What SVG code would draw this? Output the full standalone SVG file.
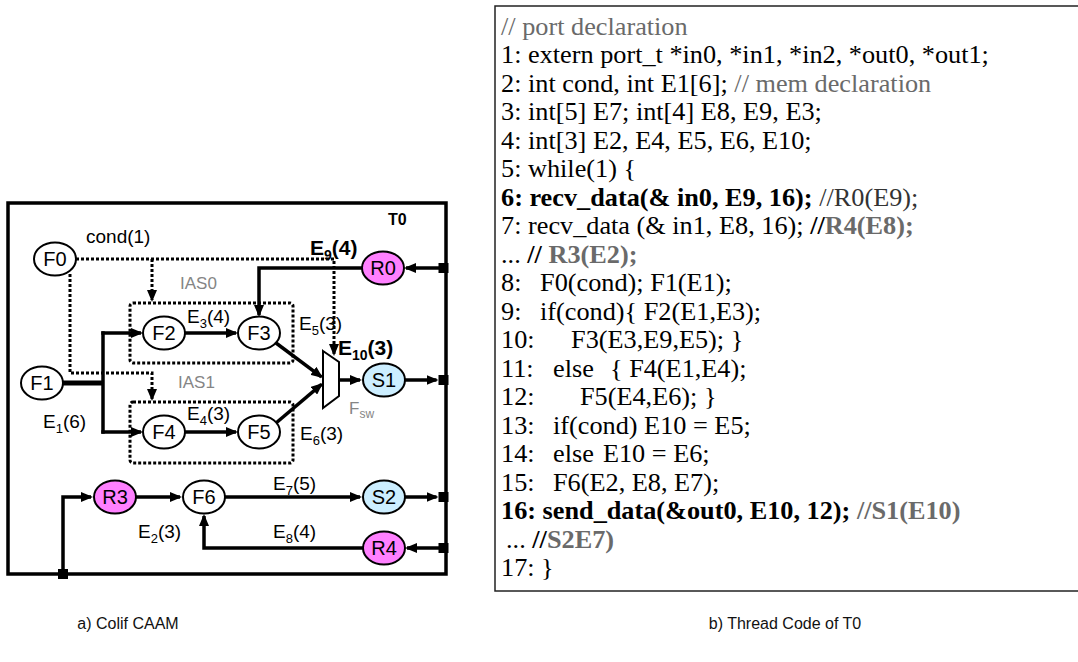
<svg xmlns="http://www.w3.org/2000/svg" width="1078" height="662" viewBox="0 0 1078 662">
<style>
.nd{stroke:#000;stroke-width:2}
.f{fill:#fff}.r{fill:#ff80ff}.s{fill:#cceeff}
.t{font-family:"Liberation Sans",Arial,sans-serif;font-size:19px;fill:#000}
.nl{text-anchor:middle;font-size:20px}
.b{font-weight:bold}
.g{fill:#858585}
.solid{fill:none;stroke:#000;stroke-width:3.5}
.dot{fill:none;stroke:#000;stroke-width:3;stroke-dasharray:3 2}
.box{fill:none;stroke:#000;stroke-width:3;stroke-dasharray:3 2}
.code{font-family:"Liberation Serif","Times New Roman",serif;font-size:25.5px;fill:#000}
.cm{fill:#6a6a6a}
.cap{font-family:"Liberation Sans",Arial,sans-serif;font-size:16px;fill:#111;text-anchor:middle}
</style>
<defs>
<marker id="ah" markerUnits="userSpaceOnUse" markerWidth="12" markerHeight="10" refX="10" refY="5" orient="auto" viewBox="0 0 12 10"><path d="M0,0 L12,5 L0,10 z" fill="#000"/></marker>
</defs>
<rect width="1078" height="662" fill="#fff"/>

<g id="T0">
<rect x="8" y="203" width="438" height="371" fill="none" stroke="#000" stroke-width="3.5"/>
<text class="t b" x="388" y="225" style="font-size:16px">T0</text>
</g>

<g id="IAS0"><rect class="box" x="130" y="303" width="163" height="60" rx="3"/><text class="t g" x="180" y="289" style="font-size:17px">IAS0</text></g>
<g id="IAS1"><rect class="box" x="130" y="402" width="163" height="61" rx="3"/><text class="t g" x="178" y="388" style="font-size:17px">IAS1</text></g>

<g id="connectors">
<path class="dot" d="M76,259 H334 V354" marker-end="url(#ah)"/>
<path class="dot" d="M152,259 V300" marker-end="url(#ah)"/>
<path class="dot" d="M70,274 V373 H152 V399" marker-end="url(#ah)"/>
<path d="M62,383 H103" fill="none" stroke="#000" stroke-width="5"/>
<path class="solid" d="M103,331.3 V433.7"/>
<path class="solid" d="M101.3,333 H141" marker-end="url(#ah)"/>
<path class="solid" d="M101.3,432 H141" marker-end="url(#ah)"/>
<path class="solid" d="M185,333 H236" marker-end="url(#ah)"/>
<path class="solid" d="M185,432 H236" marker-end="url(#ah)"/>
<path class="solid" d="M362,268 H259 V315" marker-end="url(#ah)"/>
<path class="solid" d="M276,343 L321.4,376.8" marker-end="url(#ah)"/>
<path class="solid" d="M276,423 L321.5,384.3" marker-end="url(#ah)"/>
<path class="solid" d="M339,380 H360" marker-end="url(#ah)"/>
<path class="solid" d="M405,380 H436.5" marker-end="url(#ah)"/>
<path class="solid" d="M440,268 H406" marker-end="url(#ah)"/>
<path class="solid" d="M405,497 H436.5" marker-end="url(#ah)"/>
<path class="solid" d="M440,548 H407" marker-end="url(#ah)"/>
<path class="solid" d="M63,574 V497 H91" marker-end="url(#ah)"/>
<path class="solid" d="M136,497 H180" marker-end="url(#ah)"/>
<path class="solid" d="M225,497 H360" marker-end="url(#ah)"/>
<path class="solid" d="M363,548 H204 V516" marker-end="url(#ah)"/>
<rect x="438.5" y="263" width="10" height="10" fill="#000"/>
<rect x="438.5" y="375" width="10" height="10" fill="#000"/>
<rect x="438.5" y="492" width="10" height="10" fill="#000"/>
<rect x="438.5" y="543" width="10" height="10" fill="#000"/>
<rect x="58" y="569" width="10" height="10" fill="#000"/>
<text class="t" x="86" y="243">cond(1)</text>
<text class="t b" x="310" y="255" style="font-size:21px">E<tspan dy="5" style="font-size:14px">9</tspan><tspan dy="-5">(4)</tspan></text>
<text class="t" x="187" y="323">E<tspan dy="5" style="font-size:13px">3</tspan><tspan dy="-5">(4)</tspan></text>
<text class="t" x="299" y="330">E<tspan dy="5" style="font-size:13px">5</tspan><tspan dy="-5">(3)</tspan></text>
<text class="t b" x="338" y="355" style="font-size:21px">E<tspan dy="5" style="font-size:14px">10</tspan><tspan dy="-5">(3)</tspan></text>
<text class="t" x="43" y="428">E<tspan dy="5" style="font-size:13px">1</tspan><tspan dy="-5">(6)</tspan></text>
<text class="t" x="187" y="420">E<tspan dy="5" style="font-size:13px">4</tspan><tspan dy="-5">(3)</tspan></text>
<text class="t" x="300" y="440">E<tspan dy="5" style="font-size:13px">6</tspan><tspan dy="-5">(3)</tspan></text>
<text class="t" x="273" y="490">E<tspan dy="5" style="font-size:13px">7</tspan><tspan dy="-5">(5)</tspan></text>
<text class="t" x="138" y="538">E<tspan dy="5" style="font-size:13px">2</tspan><tspan dy="-5">(3)</tspan></text>
<text class="t" x="273" y="538">E<tspan dy="5" style="font-size:13px">8</tspan><tspan dy="-5">(4)</tspan></text>
</g>

<g id="F0"><ellipse class="nd f" cx="55" cy="259" rx="21" ry="16.5"/><text class="t nl" x="55" y="266">F0</text></g>
<g id="F1"><ellipse class="nd f" cx="42" cy="383" rx="21" ry="16.5"/><text class="t nl" x="42" y="390">F1</text></g>
<g id="F2"><ellipse class="nd f" cx="164" cy="333" rx="21" ry="16.5"/><text class="t nl" x="164" y="340">F2</text></g>
<g id="F3"><ellipse class="nd f" cx="259" cy="333" rx="21" ry="16.5"/><text class="t nl" x="259" y="340">F3</text></g>
<g id="F4"><ellipse class="nd f" cx="164" cy="432" rx="21" ry="16.5"/><text class="t nl" x="164" y="439">F4</text></g>
<g id="F5"><ellipse class="nd f" cx="259" cy="432" rx="21" ry="16.5"/><text class="t nl" x="259" y="439">F5</text></g>
<g id="R0"><ellipse class="nd r" cx="383" cy="268" rx="21" ry="16.5"/><text class="t nl" x="383" y="275">R0</text></g>
<g id="S1"><ellipse class="nd s" cx="384" cy="380" rx="21" ry="16.5"/><text class="t nl" x="384" y="387">S1</text></g>
<g id="R3"><ellipse class="nd r" cx="115" cy="497" rx="21" ry="16.5"/><text class="t nl" x="115" y="504">R3</text></g>
<g id="F6"><ellipse class="nd f" cx="204" cy="497" rx="21" ry="16.5"/><text class="t nl" x="204" y="504">F6</text></g>
<g id="S2"><ellipse class="nd s" cx="384" cy="497" rx="21" ry="16.5"/><text class="t nl" x="384" y="504">S2</text></g>
<g id="R4"><ellipse class="nd r" cx="384" cy="548" rx="21" ry="16.5"/><text class="t nl" x="384" y="555">R4</text></g>
<g id="Fsw"><polygon points="323,351 339,362 339,396 323,408" fill="#fff" stroke="#000" stroke-width="2"/><text class="t g" x="349" y="414" style="font-size:17px">F<tspan dy="4" style="font-size:12px">sw</tspan></text></g>

<g id="code">
<rect x="495" y="6" width="600" height="585" fill="none" stroke="#222" stroke-width="1.5"/>
<g class="code" transform="translate(501 0) scale(1.03 1)" xml:space="preserve">
<text x="0" y="35" class="cm">// port declaration</text>
<text x="0" y="63.5">1: extern port_t *in0, *in1, *in2, *out0, *out1;</text>
<text x="0" y="92">2: int cond, int E1[6]; <tspan class="cm">// mem declaration</tspan></text>
<text x="0" y="120.5">3: int[5] E7; int[4] E8, E9, E3;</text>
<text x="0" y="149">4: int[3] E2, E4, E5, E6, E10;</text>
<text x="0" y="177.5">5: while(1) {</text>
<text x="0" y="206"><tspan class="b">6: recv_data(&amp; in0, E9, 16);  </tspan><tspan fill="#333">//R0(E9);</tspan></text>
<text x="0" y="234.5">7: recv_data (&amp; in1, E8, 16); <tspan class="b">//</tspan><tspan class="b cm">R4(E8);</tspan></text>
<text x="0" y="263">... <tspan class="b">// </tspan><tspan class="b cm">R3(E2);</tspan></text>
<text y="291.5"><tspan x="0">8:</tspan><tspan x="37.9">F0(cond); F1(E1);</tspan></text>
<text y="320"><tspan x="0">9:</tspan><tspan x="37.9">if(cond){ F2(E1,E3);</tspan></text>
<text y="348.5"><tspan x="0">10:</tspan><tspan x="68">F3(E3,E9,E5); }</tspan></text>
<text y="377"><tspan x="0">11:</tspan><tspan x="50.5">else</tspan><tspan x="105.8">{ F4(E1,E4);</tspan></text>
<text y="405.5"><tspan x="0">12:</tspan><tspan x="76.7">F5(E4,E6); }</tspan></text>
<text y="434"><tspan x="0">13:</tspan><tspan x="50.5">if(cond) E10 = E5;</tspan></text>
<text y="462.5"><tspan x="0">14:</tspan><tspan x="50.5">else</tspan><tspan x="99">E10 = E6;</tspan></text>
<text y="491"><tspan x="0">15:</tspan><tspan x="50.5">F6(E2, E8, E7);</tspan></text>
<text x="0" y="519.5"><tspan class="b">16: send_data(&amp;out0, E10, 12); </tspan><tspan class="b cm">//S1(E10)</tspan></text>
<text y="548"><tspan x="4.9">... </tspan><tspan class="b">//</tspan><tspan class="b cm">S2E7)</tspan></text>
<text x="0" y="576.5">17: }</text>
</g>
</g>

<text class="cap" x="128" y="629">a) Colif CAAM</text>
<text class="cap" x="785" y="629">b) Thread Code of T0</text>
</svg>
